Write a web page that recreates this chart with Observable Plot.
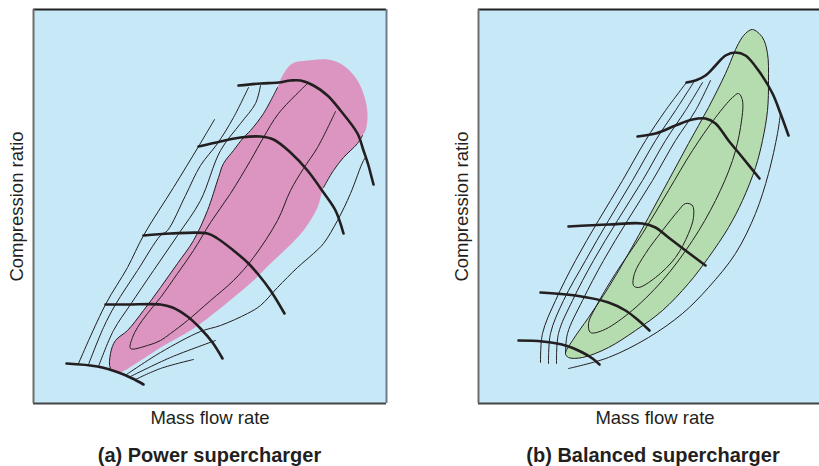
<!DOCTYPE html>
<html><head><meta charset="utf-8">
<script src="https://cdn.jsdelivr.net/npm/d3@7"></script>
<script src="https://cdn.jsdelivr.net/npm/@observablehq/plot@0.6"></script>
<style>
body{margin:0;background:#fff;font-family:"Liberation Sans",Arial,Helvetica,sans-serif;}
#wrap{position:relative;width:819px;height:466px;overflow:hidden;background:#fff}
.panel{position:absolute;top:0}
.panel svg{max-width:none !important}
.cap{position:absolute;top:443px;font-weight:bold;font-size:20px;line-height:24px;color:#231f20;text-align:center;white-space:nowrap}
</style></head><body>
<div id="wrap">
 <div id="pa" class="panel" style="left:0;width:430px"></div>
 <div id="pb" class="panel" style="left:430px;width:411px"></div>
 <div class="cap" style="left:0;width:419px">(a) Power supercharger</div>
 <div class="cap" style="left:453px;width:400px">(b) Balanced supercharger</div>
</div>
<script>
// ---- labels ----
const xLabel = "Mass flow rate";
const yLabel = "Compression ratio";
// schematic units (no ticks in the original)
const flowDomain = [0, 35.3];
const ratioDomain = [0, 39.4];

// ---- (a) Power supercharger ----
const powerIsland = [[8.5,3.1],[7.7,3.5],[7.7,5.0],[8.2,6.3],[9.4,7.3],[11.0,9.3],[12.7,11.6],[14.4,14.0],[16.0,16.3],[17.4,19.3],[18.5,22.6],[19.0,24.0],[20.0,25.3],[21.0,26.6],[21.7,27.3],[23.0,29.0],[24.4,31.6],[24.9,32.8],[25.9,34.0],[27.4,34.3],[29.4,34.4],[31.0,33.8],[32.4,32.3],[33.2,30.3],[33.4,28.6],[33.2,27.3],[32.9,26.8],[32.4,26.0],[31.0,24.6],[30.0,23.3],[29.0,21.6],[28.4,19.6],[27.0,17.3],[25.4,15.6],[23.7,14.0],[22.0,12.3],[20.0,10.6],[18.4,9.3],[16.0,7.5],[12.7,5.6],[10.4,4.1]];
const powerIslandEdges = [
 [[8.5,3.1],[7.7,3.5],[7.7,5.0],[8.2,6.3],[9.4,7.3],[11.0,9.3],[12.7,11.6],[14.4,14.0],[16.0,16.3],[17.4,19.3],[18.5,22.6],[19.0,24.0],[20.0,25.3],[21.0,26.6],[21.7,27.3],[23.0,29.0],[24.4,31.6]],
 [[32.9,26.8],[32.4,26.0],[31.0,24.6],[30.0,23.3],[29.0,21.6]]
];
const powerContours = [
 [[4.5,4.0],[7.2,9.9],[9.4,13.6],[11.0,16.8],[14.0,21.6],[16.5,25.7],[18.1,28.4]],
 [[5.5,3.9],[7.0,7.6],[8.2,9.9],[10.4,13.3],[12.7,16.8],[13.4,17.3],[15.2,20.8],[16.7,23.8],[18.4,26.0],[20.0,28.6],[21.5,31.6]],
 [[6.5,3.7],[8.0,7.3],[9.7,9.9],[12.0,13.3],[14.4,16.8],[16.7,20.3],[18.7,25.3],[20.7,28.0],[22.2,30.0],[22.7,31.8]],
 [[27.4,32.0],[24.5,29.0],[23.0,26.6],[21.7,24.3],[19.7,21.0],[17.7,18.1],[16.0,15.3],[14.4,13.0],[12.7,10.6],[11.4,9.0],[10.4,7.6],[9.9,6.6],[9.7,5.5],[11.4,5.8],[12.7,6.3],[13.7,7.0],[15.4,8.3],[17.7,10.3],[20.0,12.3],[22.0,14.6],[24.4,18.3],[25.7,21.3],[27.0,23.5],[28.4,25.6],[30.2,29.2]],
 [[10.2,2.4],[12.7,3.5],[16.0,4.4]],
 [[9.7,2.7],[13.7,4.6],[18.2,6.3]],
 [[9.3,2.9],[12.7,5.1],[16.7,7.2],[18.7,7.8],[21.4,9.0],[22.7,9.8],[24.4,11.6],[26.4,13.6],[28.0,15.0],[29.0,16.0],[30.4,18.3],[31.7,21.0],[33.0,24.3],[33.3,24.7]]
];
const powerSpeedLines = [
 [[3.3,4.0],[6.4,3.7],[8.5,3.1],[9.9,2.5],[11.0,1.9]],
 [[7.2,9.9],[9.4,9.9],[12.7,9.9],[13.9,9.6],[15.4,8.7],[16.7,7.5],[17.9,6.1],[18.9,4.5]],
 [[11.0,16.8],[13.7,17.0],[17.4,17.0],[18.4,16.5],[20.0,15.3],[21.4,14.1],[22.4,13.0],[23.7,11.3],[25.1,9.0]],
 [[16.5,25.7],[18.7,26.2],[20.7,26.6],[22.7,26.7],[24.0,26.4],[25.7,25.1],[27.4,23.3],[29.0,21.1],[30.2,19.3],[31.0,17.0]],
 [[20.5,31.8],[22.7,32.0],[24.5,32.1],[25.7,32.3],[26.7,32.3],[28.0,31.8],[29.4,30.8],[30.7,29.3],[32.4,27.0],[33.0,25.3],[33.5,23.8],[34.0,21.9]]
];

// ---- (b) Balanced supercharger ----
const balancedIsland = [[27.4,37.4],[28.4,36.6],[28.9,35.0],[29.0,32.3],[28.9,29.3],[28.4,26.3],[27.7,23.6],[26.4,20.3],[25.0,17.6],[23.0,14.6],[21.0,12.0],[18.4,9.3],[15.7,7.3],[13.0,5.6],[10.4,4.6],[9.0,4.6],[8.7,5.0],[9.4,6.3],[11.0,8.6],[13.0,11.6],[15.0,15.0],[17.0,18.6],[19.0,22.3],[21.0,26.0],[23.0,29.6],[24.7,33.0],[26.0,36.0],[26.7,37.0]];
const balancedLoops = [
 [[26.0,31.0],[26.4,30.3],[26.2,27.6],[25.4,24.3],[23.7,20.3],[21.4,16.3],[18.4,12.3],[15.0,9.0],[12.4,7.3],[11.2,7.1],[11.0,8.0],[11.7,9.6],[13.7,13.0],[16.4,17.0],[19.0,21.3],[21.4,25.3],[23.7,28.6],[25.4,30.6]],
 [[20.7,20.0],[21.4,19.8],[21.5,18.6],[21.0,17.0],[19.7,14.6],[17.7,12.6],[16.0,11.6],[15.5,11.8],[15.6,13.0],[16.7,15.0],[18.4,17.3],[20.0,19.3]]
];
const balancedContours = [
 [[6.2,4.1],[6.4,7.0],[7.7,10.3],[9.7,14.3],[12.0,18.3],[14.4,22.3],[16.7,26.3],[18.7,29.3],[20.8,32.1]],
 [[7.0,4.0],[7.2,7.0],[8.5,10.3],[10.7,14.3],[13.0,18.3],[15.4,22.3],[17.7,26.3],[19.7,29.3],[21.5,32.1]],
 [[7.8,4.0],[8.0,7.0],[9.4,10.3],[11.5,14.3],[13.9,18.3],[16.4,22.3],[18.7,26.3],[20.7,29.3],[22.4,32.1]],
 [[8.7,5.0],[8.9,7.0],[10.4,10.3],[12.5,14.3],[14.9,18.3],[17.4,22.3],[19.7,26.3],[21.7,29.3],[23.2,32.3]],
 [[9.0,3.5],[13.0,4.6],[17.0,6.6],[20.4,9.0],[23.0,11.6],[25.7,15.0],[27.7,19.0],[29.0,23.0],[29.9,27.0],[30.2,29.0]]
];
const balancedSpeedLines = [
 [[4.0,6.3],[6.4,6.2],[8.7,5.8],[10.4,5.1],[11.4,4.5],[12.1,3.9]],
 [[6.2,11.1],[9.7,10.8],[13.0,10.1],[14.7,9.3],[16.0,8.3],[17.1,7.3]],
 [[9.0,17.7],[13.0,17.9],[16.4,18.0],[17.7,17.6],[19.0,16.6],[20.7,15.3],[22.7,13.8]],
 [[15.9,26.7],[17.7,27.0],[19.7,27.8],[21.4,28.4],[22.7,28.5],[23.7,28.0],[25.0,26.3],[26.4,24.6],[28.1,22.5]],
 [[20.8,32.1],[21.7,32.3],[22.7,32.8],[23.7,33.8],[24.7,34.8],[25.7,35.1],[26.7,34.8],[28.0,33.3],[29.4,31.0],[30.2,29.0],[31.0,26.8]]
];

// ---- colours ----
const bg = "#c6e8f7", ink = "#231f20";
const pink = "#dc94c0", green = "#b4dcae";

const rows = (lines) => lines.flatMap((pts, i) => pts.map(([x, y]) => ({x, y, id: i})));
const pts = (arr) => arr.map(([x, y]) => ({x, y}));

function panel({width, marginLeft, marginRight, island, fill, islandStroke, extraLoops, edges, contours, speed, rightBorder}) {
  const marks = [
    Plot.frame({fill: bg, stroke: "none"}),
    Plot.line(pts(island), {x: "x", y: "y", curve: "catmull-rom-closed", fill, stroke: islandStroke ? ink : "none", strokeWidth: 1})
  ];
  if (extraLoops) marks.push(Plot.line(rows(extraLoops), {x: "x", y: "y", z: "id", curve: "catmull-rom-closed", stroke: ink, strokeWidth: 1}));
  if (edges) marks.push(Plot.line(rows(edges), {x: "x", y: "y", z: "id", curve: "catmull-rom", stroke: ink, strokeWidth: 1}));
  marks.push(
    Plot.line(rows(contours), {x: "x", y: "y", z: "id", curve: "catmull-rom", stroke: ink, strokeWidth: 1}),
    Plot.line(rows(speed), {x: "x", y: "y", z: "id", curve: "catmull-rom", stroke: ink, strokeWidth: 2.6}),
    Plot.ruleY([ratioDomain[1]], {stroke: "#222", strokeWidth: 2}),
    Plot.ruleY([ratioDomain[0]], {stroke: "#444", strokeWidth: 2}),
    Plot.ruleX([flowDomain[0]], {stroke: "#6e6e6e", strokeWidth: 2})
  );
  if (rightBorder) marks.push(Plot.ruleX([flowDomain[1]], {stroke: "#6b7d8a", strokeWidth: 2}));
  marks.push(
    Plot.text([yLabel], {text: d => d, frameAnchor: "left", textAnchor: "middle", lineAnchor: "middle", rotate: -90, dx: -16, fontSize: 18.5, fill: ink}),
    Plot.text([xLabel], {text: d => d, frameAnchor: "bottom", textAnchor: "middle", lineAnchor: "middle", dy: 15, fontSize: 18.5, fill: ink})
  );
  return Plot.plot({
    width, height: 432, marginLeft, marginRight, marginTop: 9, marginBottom: 29,
    x: {domain: flowDomain, axis: null},
    y: {domain: ratioDomain, axis: null},
    style: {fontFamily: '"Liberation Sans", Arial, Helvetica, sans-serif', background: "transparent", overflow: "visible", maxWidth: "none"},
    marks
  });
}

document.getElementById("pa").append(panel({
  width: 430, marginLeft: 33, marginRight: 44,
  island: powerIsland, fill: pink, islandStroke: false, edges: powerIslandEdges,
  contours: powerContours, speed: powerSpeedLines, rightBorder: true
}));
document.getElementById("pb").append(panel({
  width: 411, marginLeft: 48, marginRight: 10,
  island: balancedIsland, fill: green, islandStroke: true, extraLoops: balancedLoops,
  contours: balancedContours, speed: balancedSpeedLines, rightBorder: true
}));
</script>
</body></html>
